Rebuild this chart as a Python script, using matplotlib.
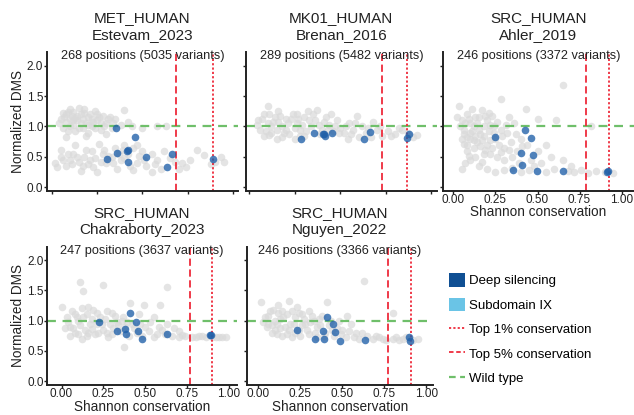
import numpy as np
import matplotlib
matplotlib.use("Agg")
import matplotlib.pyplot as plt
from matplotlib.patches import Patch
from matplotlib.lines import Line2D

plt.rcParams["font.family"] = ["Liberation Sans", "DejaVu Sans"]

# ---- data ----
proteins = ["MET_HUMAN", "MK01_HUMAN", "SRC_HUMAN", "SRC_HUMAN", "SRC_HUMAN"]
studies = ["Estevam_2023", "Brenan_2016", "Ahler_2019", "Chakraborty_2023", "Nguyen_2022"]
n_positions = [268, 289, 246, 247, 246]
n_variants = [5035, 5482, 3372, 3637, 3366]
top5 = [0.684, 0.731, 0.787, 0.767, 0.770]
top1 = [0.886, 0.868, 0.926, 0.900, 0.909]

gray_met = [
    (0.05, 1.13), (0.08, 1.20), (0.10, 1.28), (0.12, 1.10), (0.14, 1.18), (0.16, 1.05),
    (0.18, 1.22), (0.20, 1.15), (0.22, 1.00), (0.10, 1.00), (0.06, 0.98), (0.25, 1.10),
    (0.28, 1.18), (0.30, 1.05), (0.32, 1.15), (0.27, 0.95), (0.35, 1.12), (0.13, 0.93),
    (0.20, 0.90), (0.24, 1.25), (0.15, 1.30), (0.40, 1.27), (0.38, 1.02), (0.44, 1.00),
    (0.50, 0.98), (0.58, 1.00), (0.63, 1.00), (0.30, 0.88), (0.17, 0.97), (0.08, 1.07),
    (0.08, 0.83), (0.02, 0.40), (0.05, 0.50), (0.08, 0.35), (0.10, 0.45), (0.12, 0.55),
    (0.15, 0.42), (0.16, 0.26), (0.18, 0.50), (0.20, 0.38), (0.22, 0.60), (0.24, 0.48),
    (0.25, 0.25), (0.28, 0.55), (0.30, 0.40), (0.33, 0.50), (0.35, 0.65), (0.38, 0.45),
    (0.40, 0.70), (0.42, 0.55), (0.45, 0.65), (0.47, 0.40), (0.50, 0.60), (0.52, 0.35),
    (0.55, 0.55), (0.58, 0.45), (0.60, 0.30), (0.62, 0.60), (0.65, 0.48), (0.70, 0.30),
    (0.72, 0.40), (0.76, 0.45), (0.80, 0.61), (0.84, 0.53), (0.88, 0.38), (0.90, 0.42),
    (0.93, 0.50), (0.13, 0.70), (0.26, 0.72), (0.05, 0.62), (0.36, 0.30), (0.45, 0.28),
    (0.55, 0.25),
    (0.04, 1.05), (0.07, 1.15), (0.09, 1.24), (0.11, 1.17), (0.12, 1.03), (0.14, 1.10),
    (0.15, 0.98), (0.17, 1.13), (0.19, 1.06), (0.21, 1.21), (0.23, 1.08), (0.24, 0.97),
    (0.26, 1.16), (0.29, 1.00), (0.31, 1.12), (0.33, 0.98), (0.18, 1.28), (0.12, 1.24),
    (0.22, 1.12), (0.27, 1.05), (0.09, 0.93), (0.19, 0.85), (0.34, 1.05), (0.42, 1.08),
    (0.06, 0.45), (0.09, 0.55), (0.11, 0.38), (0.14, 0.50), (0.17, 0.35), (0.19, 0.62),
    (0.21, 0.45), (0.23, 0.33), (0.27, 0.42), (0.29, 0.62), (0.31, 0.52), (0.34, 0.40),
    (0.37, 0.55), (0.40, 0.48), (0.43, 0.35), (0.48, 0.52), (0.51, 0.45), (0.57, 0.38),
    (0.03, 0.33), (0.39, 0.62), (0.47, 0.70), (0.68, 0.42), (0.74, 0.33), (0.95, 0.42),
    (0.06, 1.22), (0.13, 1.14), (0.16, 1.20), (0.20, 1.03), (0.25, 1.20), (0.10, 1.12),
]
gray_mk01 = [
    (0.05, 1.10), (0.06, 0.95), (0.08, 1.20), (0.10, 1.34), (0.10, 1.05), (0.12, 0.90),
    (0.14, 1.15), (0.16, 1.25), (0.18, 1.00), (0.20, 1.12), (0.22, 0.88), (0.24, 1.20),
    (0.26, 1.05), (0.28, 0.95), (0.30, 1.15), (0.32, 1.25), (0.34, 1.00), (0.36, 1.10),
    (0.37, 1.27), (0.40, 0.95), (0.42, 1.15), (0.44, 1.02), (0.46, 0.92), (0.48, 1.10),
    (0.50, 0.98), (0.52, 0.90), (0.55, 1.05), (0.57, 0.95), (0.59, 1.17), (0.62, 1.00),
    (0.64, 0.90), (0.68, 1.08), (0.70, 0.95), (0.73, 0.85), (0.76, 0.92), (0.80, 0.88),
    (0.84, 0.95), (0.87, 0.90), (0.90, 0.82), (0.92, 0.86), (0.08, 0.85), (0.15, 0.80),
    (0.25, 0.80), (0.30, 0.85), (0.12, 1.00), (0.20, 0.95), (0.16, 1.08), (0.26, 1.20),
    (0.45, 1.20), (0.54, 0.80), (0.60, 0.82), (0.67, 0.82),
    (0.04, 1.02), (0.07, 1.12), (0.09, 0.92), (0.11, 1.20), (0.13, 1.08), (0.15, 0.95),
    (0.17, 1.17), (0.19, 0.90), (0.21, 1.05), (0.23, 1.13), (0.25, 0.97), (0.27, 1.12),
    (0.29, 1.02), (0.31, 0.92), (0.33, 1.10), (0.35, 1.20), (0.38, 1.03), (0.39, 0.88),
    (0.41, 1.07), (0.43, 0.95), (0.47, 1.00), (0.49, 0.90), (0.53, 1.00), (0.56, 0.88),
    (0.58, 1.05), (0.65, 0.98), (0.72, 1.00), (0.78, 0.85), (0.82, 0.98), (0.18, 0.82),
    (0.11, 0.86), (0.28, 0.85),
]
gray_ahler = [
    (0.03, 1.33), (0.05, 1.10), (0.06, 0.95), (0.08, 1.20), (0.10, 1.05), (0.10, 0.80),
    (0.12, 0.65), (0.13, 1.15), (0.15, 0.95), (0.17, 1.27), (0.18, 0.85), (0.20, 1.10),
    (0.20, 0.70), (0.22, 0.55), (0.24, 1.00), (0.25, 0.80), (0.28, 1.46), (0.28, 0.95),
    (0.30, 0.65), (0.30, 0.45), (0.32, 0.90), (0.34, 0.75), (0.36, 1.05), (0.38, 0.60),
    (0.40, 0.80), (0.43, 1.29), (0.44, 0.70), (0.46, 0.45), (0.50, 1.12), (0.50, 0.60),
    (0.52, 0.40), (0.55, 0.70), (0.58, 0.50), (0.61, 1.10), (0.65, 1.68), (0.65, 0.45),
    (0.70, 0.35), (0.82, 1.00), (0.07, 0.40), (0.05, 0.30), (0.10, 0.45), (0.15, 0.35),
    (0.20, 0.30), (0.25, 0.25), (0.30, 0.28), (0.35, 0.32), (0.40, 0.25), (0.45, 0.28),
    (0.55, 0.25), (0.60, 0.30), (0.68, 0.26), (0.72, 0.25), (0.76, 0.28), (0.80, 0.24),
    (0.85, 0.26), (0.90, 0.25), (0.95, 0.24), (0.08, 0.60), (0.14, 0.75), (0.12, 1.00),
    (0.23, 1.18), (0.33, 1.15), (0.18, 0.55), (0.08, 0.82),
    (0.04, 1.00), (0.06, 0.88), (0.07, 1.05), (0.09, 1.12), (0.11, 0.92), (0.12, 0.78),
    (0.14, 1.05), (0.16, 0.88), (0.16, 0.68), (0.18, 1.00), (0.19, 1.18), (0.21, 0.92),
    (0.22, 0.78), (0.23, 0.65), (0.26, 1.08), (0.27, 0.70), (0.29, 0.85), (0.31, 1.02),
    (0.33, 0.62), (0.35, 0.50), (0.37, 0.88), (0.39, 0.40), (0.41, 0.68), (0.48, 0.35),
    (0.06, 0.72), (0.09, 0.52), (0.13, 0.50), (0.17, 0.42), (0.21, 1.22), (0.26, 0.50),
    (0.02, 1.15), (0.11, 1.28),
    (0.05, 0.80), (0.08, 0.70), (0.10, 0.90), (0.13, 0.85), (0.15, 1.15), (0.17, 0.78),
    (0.19, 0.62), (0.22, 1.02), (0.24, 0.90), (0.28, 0.58),
]
gray_chak = [
    (0.00, 1.22), (0.03, 1.05), (0.05, 0.90), (0.06, 1.15), (0.08, 0.80), (0.10, 1.00),
    (0.11, 1.64), (0.12, 1.20), (0.13, 1.49), (0.14, 0.85), (0.15, 1.10), (0.17, 0.95),
    (0.19, 1.18), (0.20, 0.78), (0.23, 1.05), (0.25, 1.59), (0.25, 0.85), (0.27, 1.15),
    (0.29, 0.95), (0.30, 0.78), (0.32, 1.08), (0.34, 0.92), (0.36, 1.00), (0.38, 0.90),
    (0.41, 1.29), (0.42, 0.95), (0.45, 0.80), (0.49, 1.26), (0.50, 0.90), (0.52, 0.82),
    (0.55, 1.05), (0.57, 0.78), (0.59, 1.25), (0.60, 0.85), (0.63, 1.56), (0.63, 0.95),
    (0.66, 0.75), (0.70, 0.73), (0.74, 0.75), (0.78, 0.72), (0.82, 0.75), (0.86, 0.72),
    (0.90, 0.73), (0.94, 0.72), (0.98, 0.72), (0.375, 0.57), (0.08, 1.10), (0.16, 0.80),
    (0.21, 0.95), (0.05, 0.75), (0.12, 0.70), (0.28, 0.72), (0.40, 0.75), (0.46, 1.10),
    (0.55, 0.72), (0.70, 0.82),
    (0.04, 0.98), (0.07, 0.88), (0.09, 1.05), (0.11, 0.92), (0.13, 1.05), (0.15, 0.75),
    (0.16, 1.22), (0.18, 1.02), (0.18, 0.86), (0.21, 1.12), (0.22, 0.80), (0.24, 0.95),
    (0.26, 1.02), (0.27, 0.80), (0.30, 1.12), (0.31, 0.88), (0.33, 0.98), (0.35, 0.82),
    (0.37, 1.05), (0.39, 0.98), (0.43, 0.88), (0.47, 0.95), (0.48, 0.75), (0.53, 0.97),
    (0.58, 0.90), (0.62, 0.78), (0.67, 0.88), (0.72, 0.76), (0.80, 0.72), (0.84, 0.74),
    (0.92, 0.72), (0.96, 0.73), (0.10, 0.78), (0.02, 0.88),
]
gray_nguyen = [
    (0.016, 1.31), (0.04, 1.05), (0.05, 0.90), (0.07, 1.15), (0.08, 0.80), (0.10, 1.00),
    (0.12, 1.12), (0.13, 0.88), (0.15, 1.05), (0.17, 0.78), (0.185, 1.33), (0.19, 0.95),
    (0.20, 1.15), (0.22, 1.05), (0.24, 0.85), (0.26, 1.10), (0.28, 0.95), (0.30, 1.15),
    (0.30, 0.78), (0.33, 1.00), (0.35, 0.90), (0.38, 1.08), (0.41, 1.30), (0.42, 0.92),
    (0.45, 0.75), (0.48, 1.00), (0.50, 0.85), (0.52, 0.72), (0.55, 0.95), (0.58, 0.80),
    (0.60, 0.70), (0.63, 1.65), (0.65, 0.75), (0.68, 0.70), (0.72, 0.72), (0.76, 0.68),
    (0.80, 1.12), (0.80, 0.70), (0.84, 0.68), (0.88, 0.72), (0.92, 0.68), (0.95, 0.70),
    (0.06, 0.95), (0.10, 0.85), (0.14, 0.75), (0.25, 0.75), (0.35, 0.72), (0.40, 0.80),
    (0.47, 0.88), (0.20, 0.72), (0.53, 1.08), (0.12, 1.25), (0.23, 1.22),
    (0.03, 0.98), (0.06, 1.08), (0.08, 0.92), (0.09, 1.18), (0.11, 0.95), (0.13, 1.02),
    (0.14, 1.15), (0.16, 0.90), (0.17, 1.10), (0.18, 0.85), (0.21, 0.95), (0.22, 0.80),
    (0.24, 1.12), (0.26, 0.92), (0.27, 1.02), (0.29, 0.85), (0.31, 0.98), (0.32, 1.08),
    (0.34, 0.80), (0.36, 1.02), (0.37, 0.92), (0.39, 0.75), (0.43, 1.00), (0.44, 0.85),
    (0.49, 0.78), (0.54, 0.82), (0.57, 0.72), (0.62, 0.80), (0.70, 0.75), (0.74, 0.70),
    (0.82, 0.72), (0.86, 0.70), (0.90, 0.70), (0.11, 0.78),
]

deep_met = [(0.354, 0.97), (0.457, 0.82), (0.357, 0.57), (0.415, 0.60), (0.418, 0.61),
            (0.303, 0.465), (0.42, 0.415), (0.521, 0.50), (0.661, 0.553), (0.633, 0.34),
            (0.89, 0.47)]
deep_mk01 = [(0.282, 0.79), (0.356, 0.89), (0.403, 0.877), (0.408, 0.88), (0.418, 0.84),
             (0.453, 0.90), (0.63, 0.79), (0.665, 0.915), (0.877, 0.877), (0.866, 0.805)]
deep_ahler = [(0.247, 0.82), (0.428, 0.94), (0.463, 0.81), (0.40, 0.57), (0.475, 0.53),
              (0.41, 0.36), (0.354, 0.285), (0.499, 0.26), (0.652, 0.27), (0.912, 0.25),
              (0.918, 0.26)]
deep_chak = [(0.222, 0.97), (0.407, 1.12), (0.443, 0.98), (0.331, 0.83), (0.381, 0.855),
             (0.387, 0.77), (0.455, 0.83), (0.48, 0.70), (0.632, 0.77), (0.887, 0.76),
             (0.893, 0.755)]
deep_nguyen = [(0.228, 0.84), (0.41, 1.05), (0.446, 0.95), (0.385, 0.82), (0.458, 0.81),
               (0.339, 0.69), (0.393, 0.70), (0.486, 0.66), (0.635, 0.68), (0.899, 0.72),
               (0.905, 0.66)]

gray_sets = [gray_met, gray_mk01, gray_ahler, gray_chak, gray_nguyen]
deep_sets = [deep_met, deep_mk01, deep_ahler, deep_chak, deep_nguyen]

# ---- styling ----
GRAY = "#d9d9d9"
BLUE = "#1f5fa8"
DEEP = "#0f4f93"
SUBDOMAIN = "#6ac4e6"
RED = "#ee2b3b"
GREEN = "#6fbf6a"
INK = "#222222"

W, H = 634, 415
# panel boxes in pixels: (left, top, right, bottom)
boxes = [(46.7, 51.7, 238, 190.7), (245.7, 51.7, 437, 190.7), (442.7, 51.7, 634, 190.7),
         (47.3, 246.7, 236.7, 385), (246.7, 246.7, 433, 385)]
xlims = [(-0.0275, 1.026), (-0.02, 1.031), (-0.064, 1.074), (-0.085, 1.046), (-0.069, 1.04)]
ylims = [(-0.056, 2.23)] * 3 + [(-0.066, 2.22)] * 2
show_xlab = [False, False, True, True, True]
show_ylab = [True, False, False, True, False]

fig = plt.figure(figsize=(W / 100, H / 100), dpi=100)

for i in range(5):
    l, t, r, b = boxes[i]
    ax = fig.add_axes([l / W, 1 - b / H, (r - l) / W, (b - t) / H])
    ax.patch.set_alpha(0)

    g = np.array(gray_sets[i])
    d = np.array(deep_sets[i])
    ax.scatter(g[:, 0], g[:, 1], s=30, color=GRAY, alpha=0.7, linewidths=0, zorder=1)
    ax.axhline(1.0, color=GREEN, lw=1.6, ls=(0, (4, 3)), zorder=2)
    ax.axvline(top5[i], color=RED, lw=1.3, ls=(0, (4, 2)), zorder=2)
    ax.axvline(top1[i], color=RED, lw=1.3, ls=(0, (1.2, 1.2)), zorder=2)
    ax.scatter(d[:, 0], d[:, 1], s=30, color=BLUE, alpha=0.78, linewidths=0, zorder=3)

    ax.set_xlim(*xlims[i])
    ax.set_ylim(*ylims[i])
    ax.set_xticks([0, 0.25, 0.5, 0.75, 1.0])
    ax.set_yticks([0, 0.5, 1.0, 1.5, 2.0])
    ax.set_xticklabels(["0.00", "0.25", "0.50", "0.75", "1.00"] if show_xlab[i] else [])
    ax.set_yticklabels(["0.0", "0.5", "1.0", "1.5", "2.0"] if show_ylab[i] else [])
    ax.tick_params(labelsize=8.5, length=2.0, width=1.0, pad=0.5, colors=INK)
    for side in ["top", "right"]:
        ax.spines[side].set_visible(False)
    for side in ["left", "bottom"]:
        ax.spines[side].set_linewidth(1.4)
        ax.spines[side].set_color(INK)

    if show_xlab[i]:
        ax.set_xlabel("Shannon conservation", fontsize=9.8, labelpad=-0.5, color=INK)
    if show_ylab[i]:
        ax.set_ylabel("Normalized DMS", fontsize=9.8, labelpad=1.5, color=INK)

    ax.set_title(f"{proteins[i]}\n{studies[i]}", fontsize=11, linespacing=1.25, pad=9,
                 color=INK)
    ax.text(0.5, 0.97, f"{n_positions[i]} positions ({n_variants[i]} variants)",
            transform=ax.transAxes, ha="center", va="center", fontsize=9.2, color=INK)

handles = [
    Patch(facecolor=DEEP, edgecolor="none"),
    Patch(facecolor=SUBDOMAIN, edgecolor="none"),
    Line2D([], [], color=RED, lw=1.3, ls=(0, (1.2, 1.2))),
    Line2D([], [], color=RED, lw=1.3, ls=(0, (2.5, 1.5))),
    Line2D([], [], color=GREEN, lw=1.6, ls=(0, (3, 2))),
]
labels = ["Deep silencing", "Subdomain IX", "Top 1% conservation",
          "Top 5% conservation", "Wild type"]
fig.legend(handles, labels, loc="upper left", bbox_to_anchor=(449 / W, 1 - 273 / H),
           frameon=False, fontsize=9.5, handlelength=1.2, handleheight=1.2,
           handletextpad=0.3, labelspacing=0.78, borderpad=0, borderaxespad=0)

fig.savefig("out.png", dpi=100)
